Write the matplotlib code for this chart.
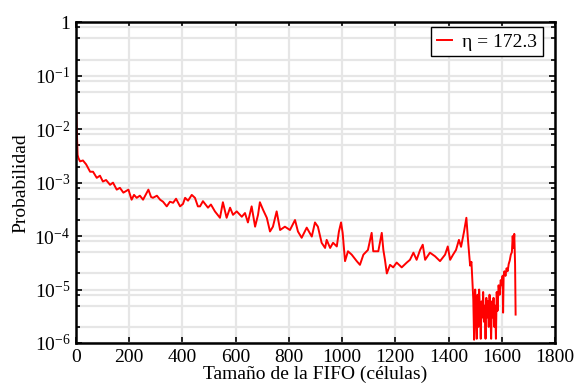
import numpy as np
import matplotlib
matplotlib.use('Agg')
import matplotlib.pyplot as plt
from matplotlib.ticker import LogLocator, FixedLocator, FuncFormatter, NullFormatter

plt.rcParams['font.family'] = ['Liberation Serif', 'DejaVu Serif']
plt.rcParams['mathtext.fontset'] = 'custom'
plt.rcParams['mathtext.rm'] = 'Liberation Serif'
plt.rcParams['mathtext.it'] = 'Liberation Serif:italic'

# tamaño de la FIFO (células) y probabilidad
fifo = [0, 4, 6, 9, 15, 26, 38, 53, 64, 78, 90, 101, 113, 128, 139, 153, 165, 178,
        197, 209, 218, 228, 240, 252, 272, 282, 289, 304, 316, 327, 341, 353, 365,
        376, 391, 402, 410, 421, 435, 447, 458, 466, 477, 496, 507, 522, 541, 552,
        566, 579, 590, 604, 623, 635, 646, 660, 673, 684, 691, 703, 717, 729, 740,
        754, 767, 785, 804, 823, 834, 848, 867, 886, 898, 909, 923, 936, 942, 955,
        966, 980, 988, 996, 1002, 1011, 1022, 1036, 1055, 1067, 1080, 1097, 1111,
        1117, 1136, 1149, 1155, 1161, 1168, 1180, 1192, 1205, 1224, 1243, 1255,
        1268, 1280, 1293, 1303, 1312, 1330, 1349, 1368, 1387, 1397, 1406, 1417,
        1428, 1439, 1447, 1458, 1467, 1473, 1481, 1486, 1493, 1496,
        1500, 1503, 1506, 1509, 1512, 1515, 1518, 1521, 1524, 1527, 1530, 1533,
        1536, 1539, 1542, 1545, 1548, 1551, 1554, 1557, 1560, 1563, 1566, 1569,
        1572, 1575, 1578, 1581, 1584, 1588, 1592, 1596, 1600, 1603, 1605, 1607,
        1610, 1614, 1618, 1622, 1626, 1630, 1634, 1638, 1641, 1644, 1647, 1650, 1652]
prob = [2.8e-2, 6.3e-3, 3.3e-3, 2.9e-3, 2.5e-3, 2.6e-3, 2.2e-3, 1.6e-3, 1.6e-3,
        1.23e-3, 1.35e-3, 1.05e-3, 1.12e-3, 9.1e-4, 1.0e-3, 7.4e-4, 8.0e-4, 6.5e-4,
        7.4e-4, 4.8e-4, 5.9e-4, 5.2e-4, 5.7e-4, 4.8e-4, 7.4e-4, 5.4e-4, 5.2e-4,
        5.7e-4, 4.8e-4, 4.4e-4, 3.6e-4, 4.4e-4, 4.2e-4, 5.0e-4, 3.6e-4, 4.0e-4,
        5.2e-4, 4.6e-4, 5.9e-4, 5.2e-4, 3.6e-4, 3.6e-4, 4.5e-4, 3.4e-4, 3.9e-4,
        2.9e-4, 2.2e-4, 4.3e-4, 2.2e-4, 3.4e-4, 2.5e-4, 2.9e-4, 2.3e-4, 2.7e-4,
        1.8e-4, 3.6e-4, 1.5e-4, 2.5e-4, 4.3e-4, 3.1e-4, 2.2e-4, 1.22e-4, 1.5e-4,
        2.9e-4, 1.3e-4, 1.5e-4, 1.3e-4, 2.0e-4, 1.22e-4, 9.3e-5, 1.44e-4, 9.8e-5,
        1.8e-4, 1.5e-4, 7.5e-5, 6.0e-5, 8.5e-5, 6.0e-5, 7.5e-5, 6.4e-5, 1.22e-4,
        1.8e-4, 1.15e-4, 3.4e-5, 5.2e-5, 4.5e-5, 3.4e-5, 2.9e-5, 4.5e-5, 5.5e-5,
        1.15e-4, 5.2e-5, 5.2e-5, 1.15e-4, 5.5e-5, 3.6e-5, 2.0e-5, 2.9e-5, 2.6e-5,
        3.2e-5, 2.6e-5, 3.2e-5, 3.6e-5, 4.9e-5, 3.6e-5, 5.5e-5, 6.9e-5, 3.6e-5,
        4.9e-5, 4.2e-5, 3.4e-5, 4.5e-5, 6.4e-5, 3.6e-5, 4.5e-5, 5.5e-5, 8.5e-5,
        6.3e-5, 1.2e-4, 2.2e-4, 8.5e-5, 2.8e-5, 3.3e-5, 6.5e-6, 1.15e-6,
        1.0e-5, 3e-6, 1.2e-6, 8e-6, 2e-6, 1e-5, 4e-6, 1.2e-6, 6e-6, 3e-6, 9e-6,
        2.5e-6, 5e-6, 1.2e-6, 7e-6, 3e-6, 6e-6, 2e-6, 8e-6, 4e-6, 1.2e-6, 6e-6,
        3e-6, 7e-6, 2e-6, 5e-6, 1.2e-6, 9e-6, 4e-6, 1.2e-5, 8e-6, 1.5e-5, 1.2e-5,
        1.8e-5, 3.7e-6, 1.8e-5, 2.2e-5, 1.8e-5, 2.5e-5, 2.2e-5, 3e-5, 3.5e-5,
        4.5e-5, 5e-5, 1.0e-4, 6e-5, 1.1e-4, 3e-5, 3.4e-6]
eta = 172.3

fig = plt.figure(figsize=(5.78, 3.87), dpi=100)
ax = fig.add_axes([0.1315, 0.1137, 0.8287, 0.8287])

ax.semilogy(fifo, prob, color='#ff0000', lw=1.4, label='η = %.1f' % eta)

ax.set_xlim(0, 1800)
ax.set_ylim(1e-6, 1)
ax.xaxis.set_major_locator(FixedLocator(np.arange(0, 1801, 200)))
ax.yaxis.set_major_locator(LogLocator(base=10, numticks=10))
ax.yaxis.set_minor_locator(LogLocator(base=10, subs=(2, 5, 8), numticks=10))
ax.yaxis.set_minor_formatter(NullFormatter())
ax.yaxis.set_major_formatter(FuncFormatter(
    lambda v, pos: '1' if abs(v - 1) < 1e-9 else r'$10^{%d}$' % round(np.log10(v))))

ax.grid(True, which='both', color='#e6e6e6', lw=1.6)
ax.set_axisbelow(True)
for s in ax.spines.values():
    s.set_linewidth(1.8)
ax.tick_params(which='both', direction='in', top=True, right=True, labelsize=14, width=1.2)
ax.tick_params(which='major', length=4, pad=4)
ax.tick_params(which='minor', length=3)

ax.set_xlabel('Tamaño de la FIFO (células)', fontsize=14, labelpad=0)
ax.set_ylabel('Probabilidad', fontsize=14, labelpad=4)

leg = ax.legend(loc='upper right', bbox_to_anchor=(0.975, 0.985), fontsize=14,
                fancybox=False, framealpha=1, edgecolor='black', handlelength=0.8,
                handletextpad=0.5, borderpad=0.3, borderaxespad=0)
leg.get_frame().set_linewidth(1.0)

fig.savefig('out.png', dpi=100)
